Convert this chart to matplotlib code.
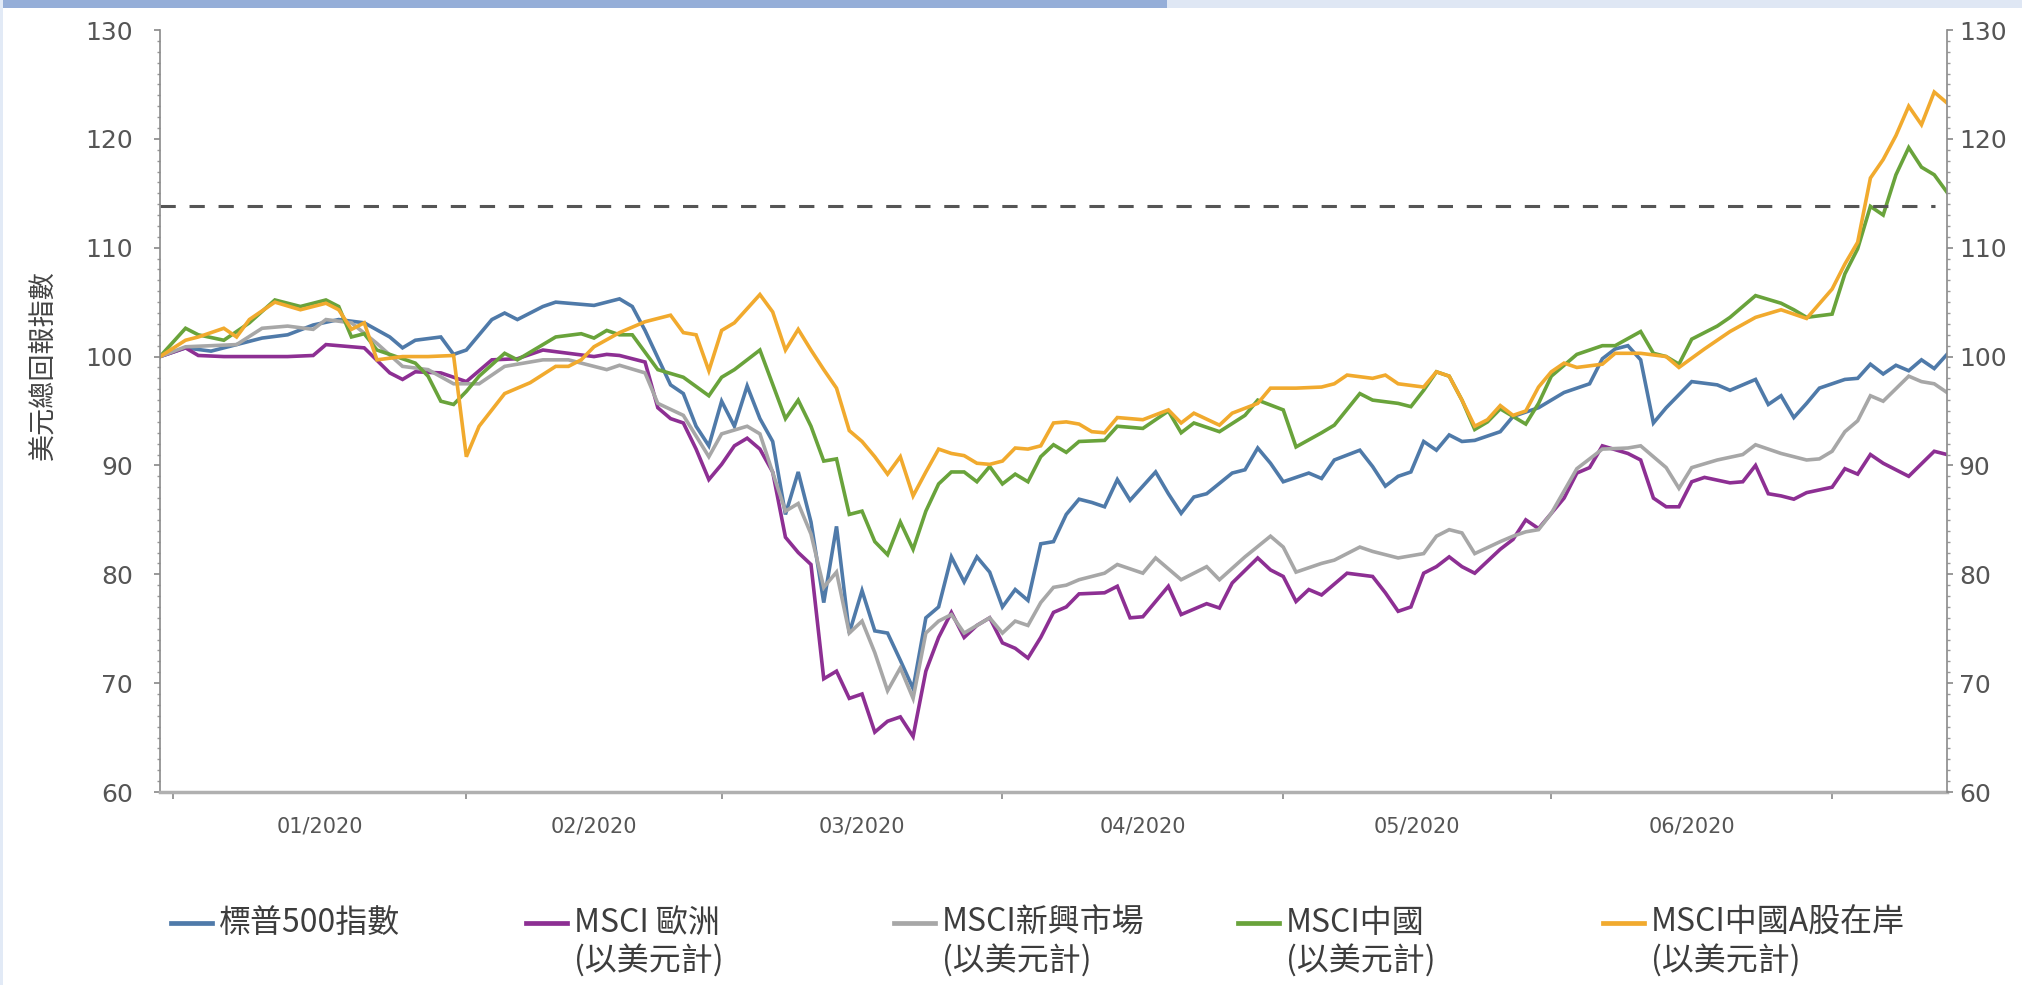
import matplotlib
matplotlib.use("Agg")
import matplotlib.pyplot as plt
from matplotlib.lines import Line2D
from matplotlib.patches import Rectangle
from matplotlib.ticker import MultipleLocator, FixedLocator, NullFormatter
import pandas as pd

plt.rcParams['font.family'] = ['Noto Sans CJK TC', 'DejaVu Sans']

# Trading calendar: business days from 31 Dec 2019 to 14 Jul 2020 (index 0..140)
trading_days = pd.bdate_range("2019-12-31", "2020-07-14")

# (business-day index, total-return index level in USD, rebased to 100)
sp500 = [(0,100.0),(2,100.8),(4,100.5),(6,101.1),(8,101.7),(10,102.0),(12,102.9),(14,103.4),(16,103.1),
         (18,101.8),(19,100.8),(20,101.5),(22,101.8),(23,100.2),(24,100.6),(26,103.4),(27,104.0),(28,103.4),
         (30,104.6),(31,105.0),(32,104.9),(34,104.7),(36,105.3),(37,104.6),(38,102.4),(40,97.4),(41,96.6),
         (42,93.6),(43,91.8),(44,95.9),(45,93.6),(46,97.3),(47,94.3),(48,92.2),(49,85.5),(50,89.4),(51,84.8),
         (52,77.4),(53,84.4),(54,74.6),(55,78.5),(56,74.8),(57,74.6),(58,72.1),(59,69.5),(60,76.0),(61,77.0),
         (62,81.6),(63,79.3),(64,81.6),(65,80.2),(66,77.0),(67,78.6),(68,77.6),(69,82.8),(70,83.0),(71,85.5),
         (72,86.9),(73,86.6),(74,86.2),(75,88.7),(76,86.8),(78,89.4),(79,87.4),(80,85.6),(81,87.1),(82,87.4),
         (84,89.3),(85,89.6),(86,91.6),(87,90.2),(88,88.5),(90,89.3),(91,88.8),(92,90.5),(94,91.4),(95,89.9),
         (96,88.1),(97,89.0),(98,89.4),(99,92.2),(100,91.4),(101,92.8),(102,92.2),(103,92.3),(105,93.1),
         (106,94.5),(108,95.3),(110,96.7),(112,97.5),(113,99.8),(114,100.7),(115,101.0),(116,99.7),(117,93.9),
         (118,95.3),(120,97.7),(122,97.4),(123,96.9),(125,97.9),(126,95.6),(127,96.4),(128,94.4),(129,95.7),
         (130,97.1),(132,97.9),(133,98.0),(134,99.3),(135,98.4),(136,99.2),(137,98.7),(138,99.7),(139,98.9),
         (140,100.2)]

msci_europe = [(0,100.0),(2,100.8),(3,100.1),(5,100.0),(8,100.0),(10,100.0),(12,100.1),(13,101.1),(15,100.9),
               (16,100.8),(18,98.5),(19,97.9),(20,98.6),(22,98.5),(24,97.7),(26,99.7),(28,99.8),(30,100.6),
               (32,100.3),(34,100.0),(35,100.2),(36,100.1),(38,99.5),(39,95.3),(40,94.3),(41,93.9),(42,91.5),
               (43,88.7),(44,90.1),(45,91.8),(46,92.5),(47,91.5),(48,89.4),(49,83.4),(50,82.0),(51,80.9),
               (52,70.4),(53,71.1),(54,68.6),(55,69.0),(56,65.5),(57,66.5),(58,66.9),(59,65.1),(60,71.1),
               (61,74.2),(62,76.5),(63,74.2),(64,75.3),(65,76.0),(66,73.7),(67,73.2),(68,72.3),(69,74.2),
               (70,76.5),(71,77.0),(72,78.2),(74,78.3),(75,78.9),(76,76.0),(77,76.1),(79,78.9),(80,76.3),
               (82,77.3),(83,76.9),(84,79.2),(86,81.5),(87,80.4),(88,79.8),(89,77.5),(90,78.6),(91,78.1),
               (93,80.1),(95,79.8),(96,78.3),(97,76.6),(98,77.0),(99,80.1),(100,80.7),(101,81.6),(102,80.7),
               (103,80.1),(105,82.3),(106,83.2),(107,85.0),(108,84.2),(109,85.6),(110,87.0),(111,89.3),
               (112,89.8),(113,91.8),(115,91.1),(116,90.5),(117,87.0),(118,86.2),(119,86.2),(120,88.5),
               (121,88.9),(123,88.4),(124,88.5),(125,90.0),(126,87.4),(127,87.2),(128,86.9),(129,87.5),
               (131,88.0),(132,89.7),(133,89.2),(134,91.0),(135,90.2),(137,89.0),(139,91.3),(140,91.0)]

msci_em = [(0,100.0),(2,100.9),(6,101.1),(8,102.6),(10,102.8),(12,102.5),(13,103.4),(15,103.1),(17,101.2),
           (19,99.1),(21,98.8),(23,97.5),(25,97.5),(27,99.1),(30,99.7),(32,99.7),(34,99.1),(35,98.8),
           (36,99.2),(38,98.5),(39,95.7),(41,94.6),(43,90.8),(44,92.9),(46,93.6),(47,92.9),(49,85.8),
           (50,86.5),(51,83.7),(52,78.8),(53,80.2),(54,74.6),(55,75.7),(56,72.8),(57,69.3),(58,71.4),
           (59,68.6),(60,74.6),(61,75.7),(62,76.3),(63,74.6),(65,76.0),(66,74.6),(67,75.7),(68,75.3),
           (69,77.4),(70,78.8),(71,79.0),(72,79.5),(73,79.8),(74,80.1),(75,80.9),(77,80.1),(78,81.5),
           (80,79.5),(82,80.7),(83,79.5),(85,81.6),(87,83.5),(88,82.5),(89,80.2),(91,81.0),(92,81.3),
           (94,82.5),(95,82.1),(97,81.5),(99,81.9),(100,83.5),(101,84.1),(102,83.8),(103,81.9),(105,83.0),
           (106,83.5),(107,83.9),(108,84.1),(109,85.6),(111,89.7),(113,91.5),(115,91.6),(116,91.8),
           (118,89.8),(119,87.9),(120,89.8),(122,90.5),(124,91.0),(125,91.9),(127,91.1),(129,90.5),
           (130,90.6),(131,91.3),(132,93.1),(133,94.1),(134,96.4),(135,95.9),(137,98.2),(138,97.7),
           (139,97.5),(140,96.7)]

msci_china = [(0,100.0),(2,102.6),(3,102.0),(5,101.5),(7,103.1),(9,105.2),(11,104.6),(13,105.2),(14,104.6),
              (15,101.8),(16,102.1),(17,100.6),(20,99.4),(21,98.2),(22,95.9),(23,95.6),(24,96.8),(25,98.2),
              (27,100.3),(28,99.7),(31,101.8),(33,102.1),(34,101.7),(35,102.4),(36,102.0),(37,102.0),
              (39,98.8),(41,98.1),(43,96.4),(44,98.1),(45,98.8),(47,100.6),(49,94.3),(50,96.0),(51,93.6),
              (52,90.4),(53,90.6),(54,85.5),(55,85.8),(56,83.0),(57,81.8),(58,84.8),(59,82.3),(60,85.8),
              (61,88.3),(62,89.4),(63,89.4),(64,88.5),(65,89.9),(66,88.3),(67,89.2),(68,88.5),(69,90.8),
              (70,91.9),(71,91.2),(72,92.2),(74,92.3),(75,93.6),(77,93.4),(79,95.0),(80,93.0),(81,93.9),
              (83,93.1),(85,94.6),(86,96.0),(88,95.1),(89,91.7),(91,93.0),(92,93.7),(94,96.6),(95,96.0),
              (97,95.7),(98,95.4),(99,96.9),(100,98.6),(101,98.2),(102,96.0),(103,93.3),(104,94.0),
              (105,95.2),(107,93.8),(108,95.7),(109,98.2),(110,99.2),(111,100.2),(113,101.0),(114,101.0),
              (116,102.3),(117,100.3),(118,100.0),(119,99.3),(120,101.6),(122,102.8),(123,103.6),
              (125,105.6),(127,104.9),(128,104.3),(129,103.6),(131,103.9),(132,107.6),(133,109.9),
              (134,113.8),(135,113.0),(136,116.7),(137,119.2),(138,117.4),(139,116.7),(140,115.1)]

msci_china_a = [(0,100.0),(2,101.5),(3,101.8),(5,102.6),(6,101.8),(7,103.4),(9,105.0),(11,104.3),(13,104.9),
                (14,104.3),(15,102.5),(16,103.1),(17,99.7),(19,100.0),(21,100.0),(23,100.1),(24,90.8),
                (25,93.6),(27,96.6),(29,97.6),(31,99.1),(32,99.1),(33,99.7),(34,100.9),(36,102.2),(38,103.2),
                (40,103.8),(41,102.2),(42,102.0),(43,98.7),(44,102.4),(45,103.1),(47,105.7),(48,104.1),
                (49,100.6),(50,102.5),(51,100.6),(52,98.8),(53,97.1),(54,93.2),(55,92.2),(56,90.8),(57,89.2),
                (58,90.8),(59,87.2),(60,89.4),(61,91.5),(62,91.1),(63,90.9),(64,90.2),(65,90.1),(66,90.4),
                (67,91.6),(68,91.5),(69,91.8),(70,93.9),(71,94.0),(72,93.8),(73,93.1),(74,93.0),(75,94.4),
                (77,94.2),(79,95.1),(80,93.9),(81,94.8),(83,93.7),(84,94.8),(86,95.7),(87,97.1),(89,97.1),
                (91,97.2),(92,97.5),(93,98.3),(95,98.0),(96,98.3),(97,97.5),(99,97.2),(100,98.6),(101,98.2),
                (102,96.0),(103,93.6),(104,94.2),(105,95.5),(106,94.6),(107,95.0),(108,97.2),(109,98.6),
                (110,99.4),(111,99.0),(113,99.3),(114,100.3),(116,100.3),(118,100.0),(119,99.0),(121,100.7),
                (123,102.3),(125,103.6),(127,104.3),(129,103.5),(131,106.2),(132,108.5),(133,110.5),
                (134,116.4),(135,118.1),(136,120.3),(137,123.0),(138,121.3),(139,124.3),(140,123.3)]

series_labels = ["標普500指數", "MSCI 歐洲\n(以美元計)", "MSCI新興市場\n(以美元計)",
                 "MSCI中國\n(以美元計)", "MSCI中國A股在岸\n(以美元計)"]
series_colors = ["#4f7aa9", "#8d2f93", "#a7a7a7", "#69a33b", "#f1aa2e"]
series_data = [sp500, msci_europe, msci_em, msci_china, msci_china_a]

reference_level = 113.8
y_ticks = [60, 70, 80, 90, 100, 110, 120, 130]

W, H = 2022, 985
fig = plt.figure(figsize=(W / 100, H / 100), dpi=100)
fig.patch.set_facecolor("white")

# header band and left frame strip
fig.add_artist(Rectangle((0, 1 - 8 / H), 1167 / W, 8 / H, transform=fig.transFigure,
                         facecolor="#95aed8", edgecolor="none"))
fig.add_artist(Rectangle((1167 / W, 1 - 8 / H), 1 - 1167 / W, 8 / H, transform=fig.transFigure,
                         facecolor="#dfe7f4", edgecolor="none"))
fig.add_artist(Rectangle((0, 0), 3 / W, 1, transform=fig.transFigure,
                         facecolor="#e2eaf6", edgecolor="none"))

ax = fig.add_axes([160 / W, 1 - 792 / H, (1947 - 160) / W, (792 - 30) / H])
for data, color in zip(series_data, series_colors):
    xs = [d for d, _ in data]
    ys = [v for _, v in data]
    ax.plot(xs, ys, color=color, lw=2.6, solid_joinstyle="miter")

ax.axhline(reference_level, xmin=0, xmax=(1935 - 160) / (1947 - 160), color="#555555",
           lw=2.2, ls=(0, (5, 4.5)))

ax.set_xlim(0, len(trading_days) - 1)
ax.set_ylim(60, 130)

# month boundaries and month-centre labels
months = trading_days.to_period("M")
month_starts = [i for i in range(1, len(trading_days)) if months[i] != months[i - 1]]
month_centres = [(a + b) / 2 for a, b in zip(month_starts[:-1], month_starts[1:])]
month_names = [trading_days[a].strftime("%m/%Y") for a in month_starts[:-1]]
ax.xaxis.set_major_locator(FixedLocator(month_starts))
ax.xaxis.set_major_formatter(NullFormatter())
ax.xaxis.set_minor_locator(FixedLocator(month_centres))
ax.set_xticklabels(month_names, minor=True, fontfamily="DejaVu Sans")
ax.tick_params(axis="x", which="major", length=5, width=1.2, color="#888888", direction="out")
ax.tick_params(axis="x", which="minor", length=0, pad=18, labelsize=15, labelcolor="#555555")

ax.set_yticks(y_ticks)
ax.set_yticklabels([str(v) for v in y_ticks], fontfamily="DejaVu Sans")
ax.yaxis.set_minor_locator(MultipleLocator(1))
ax.tick_params(axis="y", which="major", length=4.5, width=1.2, color="#888888", pad=15,
               labelsize=18, labelcolor="#555555")
ax.tick_params(axis="y", which="minor", length=2.5, width=1.0, color="#999999")

for side in ("top", "right"):
    ax.spines[side].set_visible(False)
ax.spines["left"].set_color("#8a8a8a")
ax.spines["left"].set_linewidth(1.2)
ax.spines["bottom"].set_color("#b0b0b0")
ax.spines["bottom"].set_linewidth(2.5)

ax2 = ax.twinx()
ax2.set_ylim(ax.get_ylim())
ax2.set_yticks(y_ticks)
ax2.set_yticklabels([str(v) for v in y_ticks], fontfamily="DejaVu Sans")
ax2.yaxis.set_minor_locator(MultipleLocator(1))
ax2.tick_params(axis="y", which="major", length=4.5, width=1.2, color="#888888", pad=4,
                labelsize=18, labelcolor="#555555")
ax2.tick_params(axis="y", which="minor", length=2.5, width=1.0, color="#999999")
for side in ("top", "left", "bottom"):
    ax2.spines[side].set_visible(False)
ax2.spines["right"].set_color("#8a8a8a")
ax2.spines["right"].set_linewidth(1.2)

fig.text(43 / W, 1 - 365 / H, "美元總回報指數", rotation=90, ha="center", va="center",
         fontsize=19.5, color="#444444")

# legend laid out in a single row under the chart
legend_x = [171, 526, 894, 1238, 1603]
row_y = [923, 961]
for x0, label, color in zip(legend_x, series_labels, series_colors):
    fig.add_artist(Line2D([x0 / W, (x0 + 41) / W], [1 - row_y[0] / H] * 2,
                          transform=fig.transFigure, color=color, lw=3.4))
    for k, line in enumerate(label.split("\n")):
        fig.text((x0 + 48) / W, 1 - row_y[k] / H, line, ha="left", va="center",
                 fontsize=23, color="#3d3d3d")

fig.savefig("out.png", dpi=100, facecolor="white")
